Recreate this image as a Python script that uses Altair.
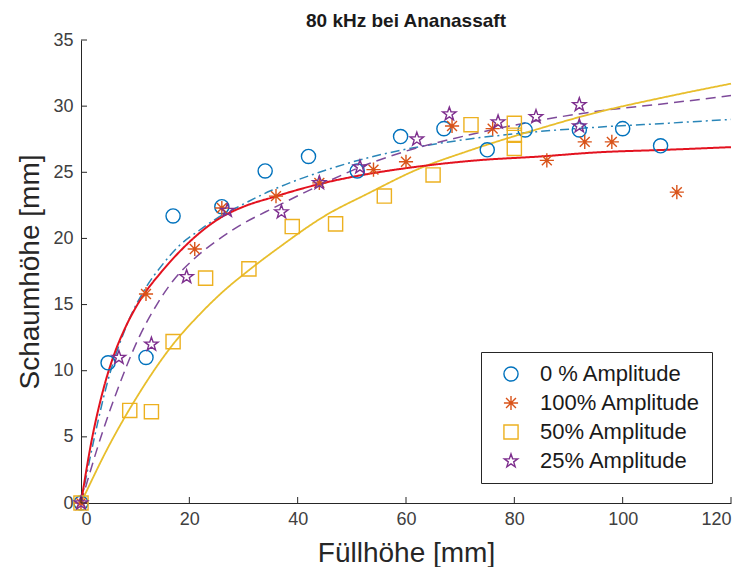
import altair as alt
import pandas as pd

series_names = ["0 % Amplitude", "100% Amplitude", "50% Amplitude", "25% Amplitude"]

amp0_x = [0, 5, 12, 17, 26, 34, 42, 51, 59, 67, 75, 82, 92, 100, 107]
amp0_y = [0, 10.6, 11.0, 21.7, 22.4, 25.1, 26.2, 25.1, 27.7, 28.3, 26.7, 28.2, 28.2, 28.3, 27.0]

amp100_x = [0, 12, 21, 26, 36, 44, 54, 60, 68.5, 76, 86, 93, 98, 110]
amp100_y = [0, 15.8, 19.2, 22.3, 23.2, 24.2, 25.2, 25.8, 28.5, 28.3, 25.9, 27.3, 27.3, 23.5]

amp50_x = [0, 9, 13, 17, 23, 31, 39, 47, 56, 65, 72, 80, 80, 80]
amp50_y = [0, 7.0, 6.9, 12.2, 17.0, 17.7, 20.9, 21.1, 23.2, 24.8, 28.6, 28.7, 27.8, 26.8]

amp25_x = [0, 7, 13, 19.5, 27, 37, 44, 51.5, 62, 68, 77, 84, 92, 92]
amp25_y = [0, 11.0, 12.0, 17.1, 22.1, 22.0, 24.2, 25.4, 27.5, 29.4, 28.8, 29.2, 30.1, 28.5]

# fitted curves
fit100_x = [0, 2, 4, 6, 8, 10, 12, 14.5, 18.2, 21, 25.5, 30, 35.3, 43.9, 52, 59.8, 73, 85, 95, 108, 120]
fit100_y = [0, 4.8, 8.4, 11.1, 13.1, 14.7, 16.0, 17.3, 19.0, 20.1, 21.5, 22.4, 23.1, 24.1, 24.8, 25.3, 25.9, 26.2, 26.5, 26.7, 26.9]

fit0_x = [0, 2.5, 4.8, 8.4, 12, 15, 18, 21.8, 25, 28.6, 35, 44, 53, 62, 71.4, 82.4, 95, 108, 120]
fit0_y = [0, 5.0, 9.0, 13.4, 16.3, 18.0, 19.4, 20.6, 21.5, 22.3, 23.6, 25.0, 26.1, 26.9, 27.5, 28.0, 28.4, 28.7, 29.0]

fit25_x = [0, 4, 6.5, 10.8, 14, 17, 21, 25, 28.6, 36, 44, 51, 60, 71.4, 83, 95, 108, 120]
fit25_y = [0, 5.4, 8.3, 12.6, 15.0, 16.8, 18.5, 19.8, 20.8, 22.4, 24.0, 25.3, 26.6, 27.8, 28.8, 29.6, 30.2, 30.8]

fit50_x = [0, 5, 10, 17, 22, 26, 31, 36.5, 45, 53, 62, 71.4, 83, 95, 108, 120]
fit50_y = [0, 4.2, 7.8, 12.0, 14.3, 15.9, 17.6, 19.3, 21.7, 23.4, 25.2, 26.6, 28.1, 29.5, 30.7, 31.7]

x_ticks = [0, 20, 40, 60, 80, 100, 120]
y_ticks = [0, 5, 10, 15, 20, 25, 30, 35]

# ---- styling ----
marker_colors = ["#0072BD", "#D95319", "#EDB120", "#7E2F8E"]
ASTERISK = "M-1,0L1,0M0,-1L0,1M-0.7,-0.7L0.7,0.7M-0.7,0.7L0.7,-0.7"
STAR = ("M0,-1L0.235,-0.324L0.951,-0.309L0.380,0.124L0.588,0.809L0,0.4"
        "L-0.588,0.809L-0.380,0.124L-0.951,-0.309L-0.235,-0.324Z")
marker_shapes = ["circle", ASTERISK, "square", STAR]

W, H = 650, 463
FONT = "Liberation Sans"

pts = pd.concat([
    pd.DataFrame({"x": amp0_x, "y": amp0_y, "s": series_names[0]}),
    pd.DataFrame({"x": amp100_x, "y": amp100_y, "s": series_names[1]}),
    pd.DataFrame({"x": amp50_x, "y": amp50_y, "s": series_names[2]}),
    pd.DataFrame({"x": amp25_x, "y": amp25_y, "s": series_names[3]}),
], ignore_index=True)

xscale = alt.Scale(domain=[0, 120], nice=False, zero=False)
yscale = alt.Scale(domain=[0, 35], nice=False, zero=False)

xaxis = alt.Axis(values=x_ticks, title="Füllhöhe [mm]", grid=False, tickSize=0,
                 labelPadding=7, titlePadding=11)
yaxis = alt.Axis(values=y_ticks, title="Schaumhöhe [mm]", grid=False, tickSize=0,
                 labelPadding=8, titlePadding=8)


def fit_layer(xs, ys, color, dash, width):
    df = pd.DataFrame({"x": xs, "y": ys})
    return alt.Chart(df).mark_line(color=color, strokeDash=dash, strokeWidth=width,
                                   interpolate="monotone").encode(
        x=alt.X("x:Q", scale=xscale, axis=xaxis),
        y=alt.Y("y:Q", scale=yscale, axis=yaxis),
    )


line0 = fit_layer(fit0_x, fit0_y, "#2A86B8", [9, 4, 2, 4], 1.5)
line25 = fit_layer(fit25_x, fit25_y, "#7E4A9A", [10, 6], 1.5)
line50 = fit_layer(fit50_x, fit50_y, "#E8BE2C", [1, 0], 1.8)
line100 = fit_layer(fit100_x, fit100_y, "#E3121F", [1, 0], 2)

points = alt.Chart(pts).mark_point(filled=False, size=200, strokeWidth=1.4, opacity=1).encode(
    x=alt.X("x:Q", scale=xscale, axis=xaxis),
    y=alt.Y("y:Q", scale=yscale, axis=yaxis),
    color=alt.Color("s:N", scale=alt.Scale(domain=series_names, range=marker_colors),
                    legend=alt.Legend(title=None, orient="none", legendX=400, legendY=312,
                                      strokeColor="#262626", fillColor="white",
                                      padding=11, labelFontSize=22, labelFont=FONT,
                                      labelColor="#1a1a1a", labelLimit=400, symbolSize=200,
                                      symbolStrokeWidth=1.4, symbolOffset=8,
                                      labelOffset=18, rowPadding=7)),
    shape=alt.Shape("s:N", scale=alt.Scale(domain=series_names, range=marker_shapes)),
)

xt = pd.DataFrame({"t": x_ticks})
yt = pd.DataFrame({"t": y_ticks})
xtick_marks = alt.Chart(xt).mark_rule(color="#262626", strokeWidth=1).encode(
    x=alt.X("t:Q", scale=xscale, axis=xaxis), y=alt.value(H), y2=alt.value(H - 6))
ytick_marks = alt.Chart(yt).mark_rule(color="#262626", strokeWidth=1).encode(
    y=alt.Y("t:Q", scale=yscale, axis=yaxis), x=alt.value(0), x2=alt.value(6))

chart = alt.layer(line0, line25, line50, line100, points, xtick_marks, ytick_marks).properties(
    width=W, height=H,
    title=alt.TitleParams("80 kHz bei Ananassaft", fontSize=19, fontWeight="bold",
                          font=FONT, color="#1a1a1a", anchor="middle", offset=0),
    autosize=alt.AutoSizeParams(type="none"),
    padding={"left": 73, "top": 32, "right": 11, "bottom": 64},
    background="white",
).configure_view(stroke=None).configure_axis(
    labelFont=FONT, labelFontSize=18, labelColor="#404040",
    titleFont=FONT, titleFontSize=28, titleFontWeight="normal", titleColor="#262626",
    domainColor="#262626", domainWidth=1,
)

chart.save("out.html", embed_options={"renderer": "svg", "actions": False})
